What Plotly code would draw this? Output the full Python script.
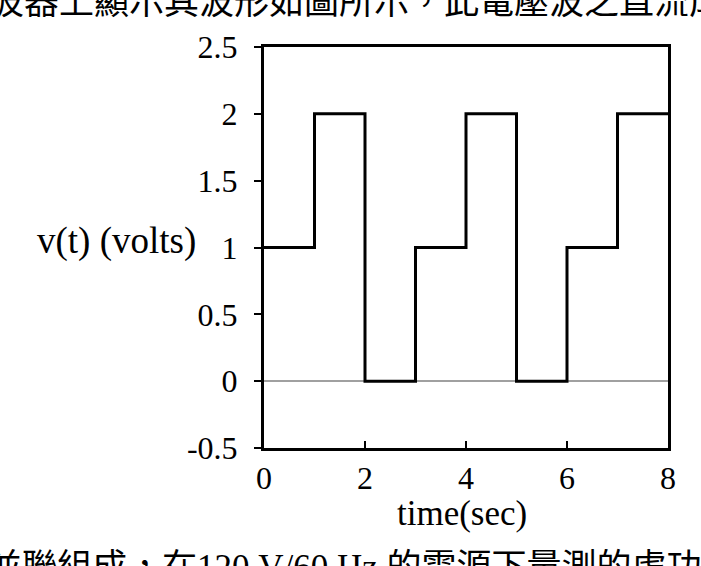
import plotly.graph_objects as go

# Step waveform data (value holds from each time until the next)
times = [0, 1, 2, 3, 4, 5, 6, 7, 8]
volts = [1, 2, 0, 1, 2, 0, 1, 2, 2]

x_ticks = [0, 2, 4, 6, 8]
y_ticks = [-0.5, 0, 0.5, 1, 1.5, 2, 2.5]
y_tick_labels = ["-0.5", "0", "0.5", "1", "1.5", "2", "2.5"]

top_text = "波器上顯示其波形如圖所示，此電壓波之直流成"
bottom_text = "並聯組成，在120 V/60 Hz 的電源下量測的虛功"

W, H = 701, 566
L, R, T, B = 264, 33, 47, 118

serif = "Liberation Serif, Times New Roman, serif"
mixed = "Liberation Serif, Noto Sans CJK TC, serif"

fig = go.Figure()
fig.add_trace(go.Scatter(
    x=times, y=volts, mode="lines", line_shape="hv",
    line=dict(color="black", width=3), hoverinfo="skip", showlegend=False,
))

fig.update_layout(
    width=W, height=H,
    margin=dict(l=L, r=R, t=T, b=B, pad=0),
    paper_bgcolor="white", plot_bgcolor="white",
    showlegend=False,
)

fig.update_xaxes(
    range=[0, 8], tickvals=x_ticks, ticktext=[str(v) for v in x_ticks],
    ticks="inside", ticklen=7, tickwidth=2, tickcolor="black",
    showline=True, linecolor="black", linewidth=3, mirror=True,
    showgrid=False, zeroline=False,
    tickfont=dict(family=serif, size=32, color="black"),
    ticklabelstandoff=0,
)
fig.update_yaxes(
    range=[-0.5, 2.5], tickvals=y_ticks, ticktext=y_tick_labels,
    ticks="outside", ticklen=7, tickwidth=2, tickcolor="black",
    showline=True, linecolor="black", linewidth=3, mirror=True,
    showgrid=False, zeroline=True, zerolinecolor="#a0a0a0", zerolinewidth=1.5,
    tickfont=dict(family=serif, size=32, color="black"),
    ticklabelstandoff=10,
)

pw = W - L - R
ph = H - T - B

def px2x(px):
    return (px - L) / pw

def px2y(py):
    return (H - B - py) / ph

# Axis titles
fig.add_annotation(text="v(t) (volts)", xref="paper", yref="paper",
                   x=px2x(198), y=px2y(241), xanchor="right", yanchor="middle",
                   showarrow=False, font=dict(family=serif, size=37, color="black"))
fig.add_annotation(text="time(sec)", xref="paper", yref="paper",
                   x=px2x(462), y=px2y(513), xanchor="center", yanchor="middle",
                   showarrow=False, font=dict(family=serif, size=35, color="black"))

# Surrounding (cropped) page text
fig.add_annotation(text=top_text, xref="paper", yref="paper",
                   x=px2x(-13), y=px2y(2), xanchor="left", yanchor="middle",
                   showarrow=False, font=dict(family=mixed, size=35, color="black"))
fig.add_annotation(text=bottom_text, xref="paper", yref="paper",
                   x=px2x(-15), y=px2y(567), xanchor="left", yanchor="middle",
                   showarrow=False, font=dict(family=mixed, size=35, color="black"))

fig.write_html("out.html")
